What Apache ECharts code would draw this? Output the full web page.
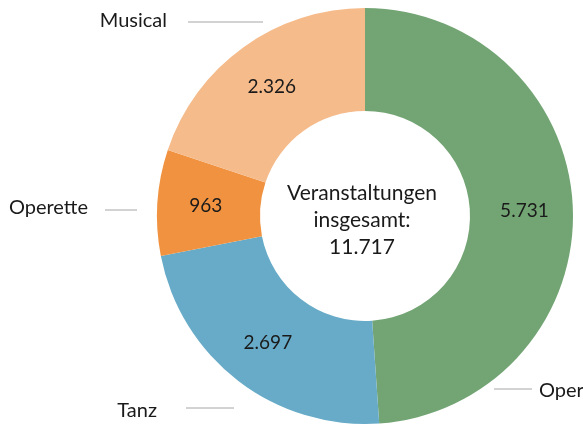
<!DOCTYPE html>
<html>
<head>
<meta charset="utf-8" />
<title>Veranstaltungen</title>
<script src="https://cdn.jsdelivr.net/npm/echarts@6/dist/echarts.min.js"></script>
<style>
  html, body { margin: 0; padding: 0; background: #fff; }
  #main { width: 583px; height: 427px; }
</style>
</head>
<body>
<div id="main"></div>
<script>
var categories = ['Oper', 'Tanz', 'Operette', 'Musical'];
var values = [5731, 2697, 963, 2326];
var colors = ['#73a574', '#67abc8', '#f0923f', '#f5bb8a'];

// where the outside category labels sit (text anchor + short line)
var outerLabels = {
  Oper:     { x: 539, y: 391, align: 'left',  line: [[494, 389], [532, 389]] },
  Tanz:     { x: 157, y: 411, align: 'right', line: [[186, 408], [234, 408]] },
  Operette: { x: 88,  y: 208, align: 'right', line: [[105, 210], [137, 210]] },
  Musical:  { x: 167, y: 21,  align: 'right', line: [[188, 22], [263, 22]] }
};

var FONT = 'Lato, "Open Sans", sans-serif';

function fmt(n) {
  return String(n).replace(/\B(?=(\d{3})+(?!\d))/g, '.');
}

var total = values.reduce(function (a, b) { return a + b; }, 0);
var data = categories.map(function (c, i) {
  return { name: c, value: values[i], itemStyle: { color: colors[i] } };
});

var chart = echarts.init(document.getElementById('main'));
chart.setOption({
  backgroundColor: '#fff',
  animation: false,
  title: {
    text: 'Veranstaltungen\ninsgesamt:\n' + fmt(total),
    left: 357,
    top: 175,
    textAlign: 'center',
    textStyle: { fontFamily: FONT, fontSize: 21, fontWeight: 'normal', color: '#1a1a1a', lineHeight: 27 }
  },
  series: [{
    type: 'pie',
    center: [365, 216],
    radius: [105, 208],
    startAngle: 90,
    clockwise: true,
    silent: true,
    label: {
      show: true,
      position: 'inside',
      formatter: function (p) { return fmt(p.value); },
      fontFamily: FONT,
      fontSize: 19,
      color: '#1a1a1a'
    },
    labelLine: { show: false },
    data: data
  }, {
    type: 'pie',
    center: [365, 216],
    radius: [105, 208],
    startAngle: 90,
    clockwise: true,
    silent: true,
    itemStyle: { color: 'transparent' },
    label: {
      show: true,
      position: 'outside',
      overflow: 'none',
      formatter: '{b}',
      fontFamily: FONT,
      fontSize: 20,
      color: '#1a1a1a'
    },
    labelLine: { show: true, lineStyle: { color: '#a6a6a6', width: 1 } },
    labelLayout: function (p) {
      var o = outerLabels[categories[p.dataIndex]];
      return {
        x: o.x, y: o.y, align: o.align, verticalAlign: 'middle',
        labelLinePoints: [o.line[0], o.line[0], o.line[1]]
      };
    },
    data: categories.map(function (c, i) {
      return { name: c, value: values[i] };
    })
  }]
});
</script>
</body>
</html>
